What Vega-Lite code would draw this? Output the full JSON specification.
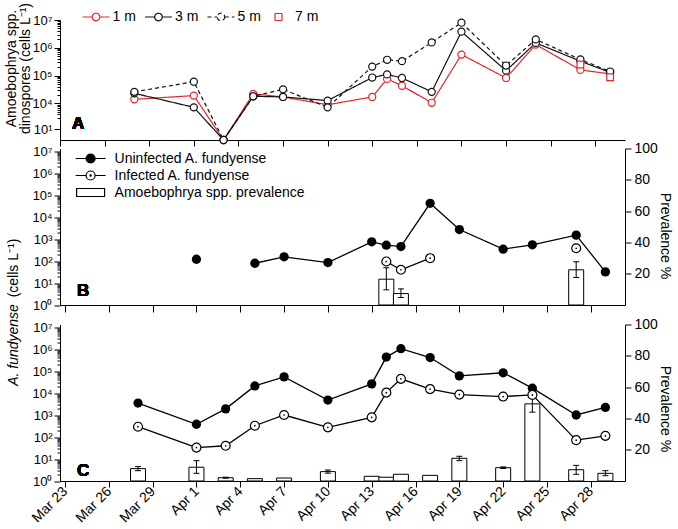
{
  "$schema": "https://vega.github.io/schema/vega-lite/v6.json",
  "background": "white",
  "padding": {"left": 3, "top": 2, "right": 3, "bottom": 0},
  "spacing": 8.5,
  "bounds": "flush",
  "config": {
    "view": {"stroke": null},
    "font": "Liberation Sans",
    "axis": {"domainColor": "black", "tickColor": "black", "labelColor": "black", "titleColor": "black", "grid": false, "labelFont": "Liberation Sans", "titleFont": "Liberation Sans", "titleFontWeight": "normal", "domainWidth": 1, "tickWidth": 1},
    "legend": {"labelFont": "Liberation Sans", "labelColor": "black", "labelFontSize": 14, "labelLimit": 400}
  },
  "datasets": {
    "A": [
      {"date": "2010-03-28T00:00", "depth": "1 m", "val": 14000},
      {"date": "2010-04-01T00:00", "depth": "1 m", "val": 19000},
      {"date": "2010-04-03T00:00", "depth": "1 m", "val": 8},
      {"date": "2010-04-05T00:00", "depth": "1 m", "val": 22000},
      {"date": "2010-04-07T00:00", "depth": "1 m", "val": 17000},
      {"date": "2010-04-10T00:00", "depth": "1 m", "val": 8900},
      {"date": "2010-04-13T00:00", "depth": "1 m", "val": 17000},
      {"date": "2010-04-14T00:00", "depth": "1 m", "val": 76000},
      {"date": "2010-04-15T00:00", "depth": "1 m", "val": 43000},
      {"date": "2010-04-17T00:00", "depth": "1 m", "val": 10500},
      {"date": "2010-04-19T00:00", "depth": "1 m", "val": 570000},
      {"date": "2010-04-22T00:00", "depth": "1 m", "val": 82000},
      {"date": "2010-04-24T00:00", "depth": "1 m", "val": 1300000},
      {"date": "2010-04-27T00:00", "depth": "1 m", "val": 160000},
      {"date": "2010-04-29T00:00", "depth": "1 m", "val": 115000},
      {"date": "2010-03-28T00:00", "depth": "3 m", "val": 23000},
      {"date": "2010-04-01T00:00", "depth": "3 m", "val": 7200},
      {"date": "2010-04-03T00:00", "depth": "3 m", "val": 5},
      {"date": "2010-04-05T00:00", "depth": "3 m", "val": 18000},
      {"date": "2010-04-07T00:00", "depth": "3 m", "val": 17000},
      {"date": "2010-04-10T00:00", "depth": "3 m", "val": 12600},
      {"date": "2010-04-13T00:00", "depth": "3 m", "val": 85000},
      {"date": "2010-04-14T00:00", "depth": "3 m", "val": 110000},
      {"date": "2010-04-15T00:00", "depth": "3 m", "val": 82000},
      {"date": "2010-04-17T00:00", "depth": "3 m", "val": 26000},
      {"date": "2010-04-19T00:00", "depth": "3 m", "val": 3800000},
      {"date": "2010-04-22T00:00", "depth": "3 m", "val": 150000},
      {"date": "2010-04-24T00:00", "depth": "3 m", "val": 1500000},
      {"date": "2010-04-27T00:00", "depth": "3 m", "val": 330000},
      {"date": "2010-04-29T00:00", "depth": "3 m", "val": 130000},
      {"date": "2010-03-28T00:00", "depth": "5 m", "val": 26000},
      {"date": "2010-04-01T00:00", "depth": "5 m", "val": 60000},
      {"date": "2010-04-03T00:00", "depth": "5 m", "val": 15},
      {"date": "2010-04-05T00:00", "depth": "5 m", "val": 18000},
      {"date": "2010-04-07T00:00", "depth": "5 m", "val": 32000},
      {"date": "2010-04-10T00:00", "depth": "5 m", "val": 7200},
      {"date": "2010-04-13T00:00", "depth": "5 m", "val": 210000},
      {"date": "2010-04-14T00:00", "depth": "5 m", "val": 370000},
      {"date": "2010-04-15T00:00", "depth": "5 m", "val": 330000},
      {"date": "2010-04-17T00:00", "depth": "5 m", "val": 1560000},
      {"date": "2010-04-19T00:00", "depth": "5 m", "val": 8000000},
      {"date": "2010-04-22T00:00", "depth": "5 m", "val": 230000},
      {"date": "2010-04-24T00:00", "depth": "5 m", "val": 2000000},
      {"date": "2010-04-27T00:00", "depth": "5 m", "val": 380000},
      {"date": "2010-04-29T00:00", "depth": "5 m", "val": 140000},
      {"date": "2010-04-27T00:00", "depth": "7 m", "val": 250000},
      {"date": "2010-04-29T00:00", "depth": "7 m", "val": 87000}
    ],
    "B": [
      {"date": "2010-04-01T00:00", "uninf": 120, "useg": 1, "inf": null, "iseg": null, "prev": null, "lo": null, "hi": null},
      {"date": "2010-04-05T00:00", "uninf": 79, "useg": 2, "inf": null, "iseg": null, "prev": null, "lo": null, "hi": null},
      {"date": "2010-04-07T00:00", "uninf": 155, "useg": 2, "inf": null, "iseg": null, "prev": null, "lo": null, "hi": null},
      {"date": "2010-04-10T00:00", "uninf": 85, "useg": 2, "inf": null, "iseg": null, "prev": null, "lo": null, "hi": null},
      {"date": "2010-04-13T00:00", "uninf": 745, "useg": 2, "inf": null, "iseg": null, "prev": null, "lo": null, "hi": null},
      {"date": "2010-04-14T00:00", "uninf": 525, "useg": 2, "inf": 95, "iseg": 1, "prev": 16.5, "lo": 9.7, "hi": 23.8},
      {"date": "2010-04-15T00:00", "uninf": 455, "useg": 2, "inf": 40, "iseg": 1, "prev": 7.3, "lo": 4.8, "hi": 10.3},
      {"date": "2010-04-17T00:00", "uninf": 42000, "useg": 2, "inf": 134, "iseg": 1, "prev": null, "lo": null, "hi": null},
      {"date": "2010-04-19T00:00", "uninf": 2700, "useg": 2, "inf": null, "iseg": null, "prev": null, "lo": null, "hi": null},
      {"date": "2010-04-22T00:00", "uninf": 345, "useg": 2, "inf": null, "iseg": null, "prev": null, "lo": null, "hi": null},
      {"date": "2010-04-24T00:00", "uninf": 545, "useg": 2, "inf": null, "iseg": null, "prev": null, "lo": null, "hi": null},
      {"date": "2010-04-27T00:00", "uninf": 1500, "useg": 2, "inf": 380, "iseg": 2, "prev": 22.5, "lo": 17.6, "hi": 27.6},
      {"date": "2010-04-29T00:00", "uninf": 32, "useg": 2, "inf": null, "iseg": null, "prev": null, "lo": null, "hi": null}
    ],
    "C": [
      {"date": "2010-03-28T00:00", "uninf": 3500, "inf": 293, "prev": 7.9, "lo": 6.6, "hi": 9.2},
      {"date": "2010-04-01T00:00", "uninf": 380, "inf": 33, "prev": 8.8, "lo": 4.9, "hi": 13},
      {"date": "2010-04-03T00:00", "uninf": 1900, "inf": 40, "prev": 2.1, "lo": 1.8, "hi": 2.4},
      {"date": "2010-04-05T00:00", "uninf": 21000, "inf": 325, "prev": 1.5, "lo": null, "hi": null},
      {"date": "2010-04-07T00:00", "uninf": 54000, "inf": 1000, "prev": 1.9, "lo": null, "hi": null},
      {"date": "2010-04-10T00:00", "uninf": 4800, "inf": 275, "prev": 6, "lo": 5, "hi": 7},
      {"date": "2010-04-13T00:00", "uninf": 26000, "inf": 785, "prev": 3, "lo": null, "hi": null},
      {"date": "2010-04-14T00:00", "uninf": 430000, "inf": 10400, "prev": 2.4, "lo": null, "hi": null},
      {"date": "2010-04-15T00:00", "uninf": 1030000, "inf": 44000, "prev": 4.3, "lo": null, "hi": null},
      {"date": "2010-04-17T00:00", "uninf": 410000, "inf": 15000, "prev": 3.6, "lo": null, "hi": null},
      {"date": "2010-04-19T00:00", "uninf": 60000, "inf": 8500, "prev": 14.5, "lo": 13, "hi": 15.8},
      {"date": "2010-04-22T00:00", "uninf": 83000, "inf": 6900, "prev": 8.5, "lo": 8, "hi": 9},
      {"date": "2010-04-24T00:00", "uninf": 16600, "inf": 8200, "prev": 49.3, "lo": 44, "hi": 54},
      {"date": "2010-04-27T00:00", "uninf": 1000, "inf": 72, "prev": 7.2, "lo": 4.3, "hi": 10},
      {"date": "2010-04-29T00:00", "uninf": 2200, "inf": 113, "prev": 4.9, "lo": 3.4, "hi": 6.6}
    ],
    "Bkey": [
      {"series": "Uninfected A. fundyense"},
      {"series": "Infected A. fundyense"},
      {"series": "Amoebophrya spp. prevalence"}
    ],
    "empty": []
  },
  "resolve": {
    "scale": {"x": "independent", "y": "independent", "stroke": "independent", "shape": "independent", "strokeDash": "independent", "fill": "independent"},
    "axis": {"x": "independent", "y": "independent"},
    "legend": {"stroke": "independent", "shape": "independent", "strokeDash": "independent", "fill": "independent"}
  },
  "vconcat": [
    {
      "width": 565,
      "height": 120,
      "data": {"name": "A"},
      "encoding": {
        "x": {
          "field": "date", "type": "temporal",
          "scale": {"domain": [{"year": 2010, "month": 3, "date": 23}, {"year": 2010, "month": 4, "date": 30}]},
          "axis": {"title": null, "labels": false, "tickSize": 6, "values": [{"year": 2010, "month": 3, "date": 23}, {"year": 2010, "month": 3, "date": 26}, {"year": 2010, "month": 3, "date": 29}, {"year": 2010, "month": 4, "date": 1}, {"year": 2010, "month": 4, "date": 4}, {"year": 2010, "month": 4, "date": 7}, {"year": 2010, "month": 4, "date": 10}, {"year": 2010, "month": 4, "date": 13}, {"year": 2010, "month": 4, "date": 16}, {"year": 2010, "month": 4, "date": 19}, {"year": 2010, "month": 4, "date": 22}, {"year": 2010, "month": 4, "date": 25}, {"year": 2010, "month": 4, "date": 28}]}
        },
        "y": {
          "field": "val", "type": "quantitative",
          "scale": {"type": "log", "domain": [480, 10000000], "clamp": true, "nice": false},
          "axis": {
            "orient": "left",
            "values": [1160, 3000, 4000, 5000, 6000, 7000, 8000, 9000, 10000, 20000, 30000, 40000, 50000, 60000, 70000, 80000, 90000, 100000, 200000, 300000, 400000, 500000, 600000, 700000, 800000, 900000, 1000000, 2000000, 3000000, 4000000, 5000000, 6000000, 7000000, 8000000, 9000000, 10000000],
            "labelExpr": "datum.value == 1160 ? '10¹' : (abs(log(datum.value)/LN10 - round(log(datum.value)/LN10)) < 0.001 ? '10' + ['⁰','¹','²','³','⁴','⁵','⁶','⁷'][round(log(datum.value)/LN10)] : '')",
            "tickSize": {"condition": {"test": "datum.value == 1160 || abs(log(datum.value)/LN10 - round(log(datum.value)/LN10)) < 0.001", "value": 6}, "value": 3},
            "labelOverlap": false,
            "labelFontSize": 13,
            "labelPadding": 2,
            "title": ["Amoebophrya spp.", "dinospores (cells L⁻¹)"],
            "titleFontSize": 14,
            "titleLineHeight": 14,
            "titleAngle": -90,
            "titleX": -49,
            "titleY": 48,
            "titleAlign": "center",
            "titleBaseline": "middle"
          }
        }
      },
      "layer": [
        {
          "transform": [{"filter": "datum.depth != '7 m'"}],
          "mark": {"type": "line", "strokeWidth": 1.2},
          "encoding": {
            "stroke": {"field": "depth", "type": "nominal", "scale": {"domain": ["1 m", "3 m", "5 m", "7 m"], "range": ["#e3262b", "#111111", "#111111", "#e3262b"]}},
            "strokeDash": {"field": "depth", "type": "nominal", "scale": {"domain": ["1 m", "3 m", "5 m", "7 m"], "range": [[1, 0], [1, 0], [4, 3], [1, 0]]}}
          }
        },
        {
          "transform": [{"filter": "datum.depth != '7 m'"}],
          "mark": {"type": "point", "shape": "circle", "filled": false, "fill": "white", "size": 50, "strokeWidth": 1.2, "opacity": 1},
          "encoding": {"stroke": {"field": "depth", "type": "nominal"}}
        },
        {
          "transform": [{"filter": "datum.depth == '7 m'"}],
          "mark": {"type": "point", "shape": "square", "filled": false, "fill": "white", "size": 45, "strokeWidth": 1.2, "opacity": 1},
          "encoding": {"stroke": {"field": "depth", "type": "nominal"}}
        },
        {
          "transform": [{"filter": "false"}],
          "mark": {"type": "point", "filled": false, "fill": "white", "strokeWidth": 1.2, "opacity": 1},
          "encoding": {
            "stroke": {
              "field": "depth", "type": "nominal",
              "legend": {"orient": "none", "legendX": 25, "legendY": -14, "direction": "horizontal", "columns": 4, "title": null, "symbolSize": 400, "symbolStrokeWidth": 1.2, "symbolFillColor": "white", "labelFontSize": 14, "labelOffset": 5.5, "columnPadding": 6.5}
            },
            "strokeDash": {"field": "depth", "type": "nominal"},
            "shape": {
              "field": "depth", "type": "nominal",
              "scale": {"domain": ["1 m", "3 m", "5 m", "7 m"], "range": ["M-1.35,0H-0.38M0.38,0H1.35M0.38,0A0.38,0.38,0,1,1,-0.38,0A0.38,0.38,0,1,1,0.38,0", "M-1.35,0H-0.38M0.38,0H1.35M0.38,0A0.38,0.38,0,1,1,-0.38,0A0.38,0.38,0,1,1,0.38,0", "M-1.35,0H-0.38M0.38,0H1.35M0.38,0A0.38,0.38,0,1,1,-0.38,0A0.38,0.38,0,1,1,0.38,0", "M-0.35,-0.35H0.35V0.35H-0.35Z"]}
            }
          }
        },
        {
          "mark": {"type": "text", "text": "A", "fontSize": 17, "fontWeight": "bold", "align": "left", "baseline": "bottom", "dx": 12, "dy": -7},
          "encoding": {
            "x": {"datum": {"year": 2010, "month": 3, "date": 23}, "type": "temporal"},
            "y": {"datum": 480, "type": "quantitative"}
          }
        }
      ]
    },
    {
      "width": 565,
      "height": 156.5,
      "data": {"name": "B"},
      "resolve": {"scale": {"y": "independent"}, "axis": {"y": "independent"}},
      "layer": [
        {
          "encoding": {
            "x": {
              "field": "date", "type": "temporal",
              "scale": {"domain": [{"year": 2010, "month": 3, "date": 23}, {"year": 2010, "month": 4, "date": 30}]},
              "axis": {"title": null, "labels": false, "tickSize": 7, "values": [{"year": 2010, "month": 3, "date": 23}, {"year": 2010, "month": 3, "date": 26}, {"year": 2010, "month": 3, "date": 29}, {"year": 2010, "month": 4, "date": 1}, {"year": 2010, "month": 4, "date": 4}, {"year": 2010, "month": 4, "date": 7}, {"year": 2010, "month": 4, "date": 10}, {"year": 2010, "month": 4, "date": 13}, {"year": 2010, "month": 4, "date": 16}, {"year": 2010, "month": 4, "date": 19}, {"year": 2010, "month": 4, "date": 22}, {"year": 2010, "month": 4, "date": 25}, {"year": 2010, "month": 4, "date": 28}]}
            }
          },
          "layer": [
            {
              "transform": [{"filter": "datum.prev != null"}],
              "mark": {"type": "bar", "width": 15, "fill": "white", "stroke": "black", "strokeWidth": 1},
              "encoding": {
                "y": {
                  "field": "prev", "type": "quantitative",
                  "scale": {"domain": [0, 100], "nice": false},
                  "axis": {"orient": "right", "values": [20, 40, 60, 80, 100], "tickCount": 20, "labelOverlap": false, "tickSize": 6, "labelFontSize": 14, "labelPadding": 3, "title": "Prevalence %", "titleFontSize": 14, "titleAngle": 90, "titleX": 39, "titleY": 87, "titleAlign": "center", "titleBaseline": "middle"}
                }
              }
            },
            {
              "transform": [{"filter": "datum.lo != null"}],
              "mark": {"type": "rule", "color": "black", "strokeWidth": 1},
              "encoding": {"y": {"field": "lo", "type": "quantitative"}, "y2": {"field": "hi"}}
            },
            {
              "transform": [{"filter": "datum.lo != null"}],
              "mark": {"type": "tick", "orient": "horizontal", "size": 6, "thickness": 1, "color": "black", "opacity": 1},
              "encoding": {"y": {"field": "lo", "type": "quantitative"}}
            },
            {
              "transform": [{"filter": "datum.hi != null"}],
              "mark": {"type": "tick", "orient": "horizontal", "size": 6, "thickness": 1, "color": "black", "opacity": 1},
              "encoding": {"y": {"field": "hi", "type": "quantitative"}}
            },
            {
              "mark": {"type": "text", "text": "B", "fontSize": 17, "fontWeight": "bold", "align": "left", "baseline": "bottom", "dx": 12, "dy": -5},
              "encoding": {
                "x": {"datum": {"year": 2010, "month": 3, "date": 23}, "type": "temporal"},
                "y": {"datum": 0, "type": "quantitative"}
              }
            }
          ]
        },
        {
          "encoding": {
            "x": {"field": "date", "type": "temporal", "scale": {"domain": [{"year": 2010, "month": 3, "date": 23}, {"year": 2010, "month": 4, "date": 30}]}}
          },
          "layer": [
            {
              "transform": [{"filter": "datum.uninf != null"}],
              "mark": {"type": "line", "color": "black", "strokeWidth": 1.3},
              "encoding": {
                "detail": {"field": "useg", "type": "nominal"},
                "y": {
                  "field": "uninf", "type": "quantitative",
                  "scale": {"type": "log", "domain": [1, 13000000], "nice": false},
                  "axis": {
                    "orient": "left",
                    "values": [1, 2, 3, 4, 5, 6, 7, 8, 9, 10, 20, 30, 40, 50, 60, 70, 80, 90, 100, 200, 300, 400, 500, 600, 700, 800, 900, 1000, 2000, 3000, 4000, 5000, 6000, 7000, 8000, 9000, 10000, 20000, 30000, 40000, 50000, 60000, 70000, 80000, 90000, 100000, 200000, 300000, 400000, 500000, 600000, 700000, 800000, 900000, 1000000, 2000000, 3000000, 4000000, 5000000, 6000000, 7000000, 8000000, 9000000, 10000000],
                    "labelExpr": "abs(log(datum.value)/LN10 - round(log(datum.value)/LN10)) < 0.001 ? '10' + ['⁰','¹','²','³','⁴','⁵','⁶','⁷'][round(log(datum.value)/LN10)] : ''",
                    "tickSize": {"condition": {"test": "abs(log(datum.value)/LN10 - round(log(datum.value)/LN10)) < 0.001", "value": 6}, "value": 3},
                    "labelOverlap": false,
                    "labelFontSize": 13,
                    "labelPadding": 2,
                    "title": "(cells L⁻¹)",
                    "titleFontSize": 14,
                    "titleAngle": -90,
                    "titleX": -47,
                    "titleY": 119,
                    "titleAlign": "center",
                    "titleBaseline": "middle"
                  }
                }
              }
            },
            {
              "transform": [{"filter": "datum.uninf != null"}],
              "mark": {"type": "point", "shape": "circle", "filled": true, "fill": "black", "size": 86, "opacity": 1},
              "encoding": {"y": {"field": "uninf", "type": "quantitative"}}
            },
            {
              "transform": [{"filter": "datum.inf != null"}],
              "mark": {"type": "line", "color": "black", "strokeWidth": 1.3},
              "encoding": {
                "detail": {"field": "iseg", "type": "nominal"},
                "y": {"field": "inf", "type": "quantitative"}
              }
            },
            {
              "transform": [{"filter": "datum.inf != null"}],
              "mark": {"type": "point", "shape": "circle", "filled": false, "fill": "white", "stroke": "black", "strokeWidth": 1.2, "size": 80, "opacity": 1},
              "encoding": {"y": {"field": "inf", "type": "quantitative"}}
            },
            {
              "transform": [{"filter": "datum.inf != null"}],
              "mark": {"type": "point", "shape": "circle", "filled": true, "fill": "black", "size": 3, "opacity": 1},
              "encoding": {"y": {"field": "inf", "type": "quantitative"}}
            },
            {
              "data": {"name": "Bkey"},
              "transform": [{"filter": "false"}],
              "mark": {"type": "point", "strokeWidth": 1.2, "opacity": 1},
              "encoding": {
                "shape": {
                  "field": "series", "type": "nominal",
                  "scale": {"domain": ["Uninfected A. fundyense", "Infected A. fundyense", "Amoebophrya spp. prevalence"], "range": ["M-3,0H-0.9M0.9,0H3M0.9,0A0.9,0.9,0,1,1,-0.9,0A0.9,0.9,0,1,1,0.9,0", "M-3,0H-0.9M0.9,0H3M0.9,0A0.9,0.9,0,1,1,-0.9,0A0.9,0.9,0,1,1,0.9,0M0.12,0A0.12,0.12,0,1,1,-0.12,0A0.12,0.12,0,1,1,0.12,0", "M-2.8,-0.8H2.8V0.8H-2.8Z"]},
                  "legend": {"orient": "none", "legendX": 23.6, "legendY": 3, "direction": "vertical", "title": null, "symbolSize": 100, "symbolStrokeWidth": 1.2, "labelFontSize": 14, "labelOffset": 17, "labelLimit": 400, "rowPadding": 3}
                },
                "fill": {
                  "field": "series", "type": "nominal",
                  "scale": {"domain": ["Uninfected A. fundyense", "Infected A. fundyense", "Amoebophrya spp. prevalence"], "range": ["black", "white", "white"]},
                  "legend": {"orient": "none", "legendX": 23.6, "legendY": 3, "direction": "vertical", "title": null, "symbolSize": 100, "symbolStrokeWidth": 1.2, "labelFontSize": 14, "labelOffset": 17, "labelLimit": 400, "rowPadding": 3}
                },
                "stroke": {
                  "field": "series", "type": "nominal",
                  "scale": {"domain": ["Uninfected A. fundyense", "Infected A. fundyense", "Amoebophrya spp. prevalence"], "range": ["black", "black", "black"]},
                  "legend": {"orient": "none", "legendX": 23.6, "legendY": 3, "direction": "vertical", "title": null, "symbolSize": 100, "symbolStrokeWidth": 1.2, "labelFontSize": 14, "labelOffset": 17, "labelLimit": 400, "rowPadding": 3}
                }
              }
            }
          ]
        }
      ]
    },
    {
      "width": 565,
      "height": 1.2,
      "data": {"name": "empty"},
      "mark": {"type": "point"},
      "encoding": {}
    },
    {
      "width": 565,
      "height": 156.5,
      "data": {"name": "C"},
      "resolve": {"scale": {"y": "independent"}, "axis": {"y": "independent"}},
      "layer": [
        {
          "encoding": {
            "x": {
              "field": "date", "type": "temporal",
              "scale": {"domain": [{"year": 2010, "month": 3, "date": 23}, {"year": 2010, "month": 4, "date": 30}]},
              "axis": {"title": null, "format": "%b %-d", "labelAngle": -45, "labelAlign": "right", "labelBaseline": "middle", "labelFontSize": 14, "labelPadding": 2, "tickSize": 6, "labelOverlap": false, "values": [{"year": 2010, "month": 3, "date": 23}, {"year": 2010, "month": 3, "date": 26}, {"year": 2010, "month": 3, "date": 29}, {"year": 2010, "month": 4, "date": 1}, {"year": 2010, "month": 4, "date": 4}, {"year": 2010, "month": 4, "date": 7}, {"year": 2010, "month": 4, "date": 10}, {"year": 2010, "month": 4, "date": 13}, {"year": 2010, "month": 4, "date": 16}, {"year": 2010, "month": 4, "date": 19}, {"year": 2010, "month": 4, "date": 22}, {"year": 2010, "month": 4, "date": 25}, {"year": 2010, "month": 4, "date": 28}]}
            }
          },
          "layer": [
            {
              "mark": {"type": "bar", "width": 15, "fill": "white", "stroke": "black", "strokeWidth": 1},
              "encoding": {
                "y": {
                  "field": "prev", "type": "quantitative",
                  "scale": {"domain": [0, 100], "nice": false},
                  "axis": {"orient": "right", "values": [20, 40, 60, 80, 100], "tickCount": 20, "labelOverlap": false, "tickSize": 6, "labelFontSize": 14, "labelPadding": 3, "title": "Prevalence %", "titleFontSize": 14, "titleAngle": 90, "titleX": 39, "titleY": 84, "titleAlign": "center", "titleBaseline": "middle"}
                }
              }
            },
            {
              "transform": [{"filter": "datum.lo != null"}],
              "mark": {"type": "rule", "color": "black", "strokeWidth": 1},
              "encoding": {"y": {"field": "lo", "type": "quantitative"}, "y2": {"field": "hi"}}
            },
            {
              "transform": [{"filter": "datum.lo != null"}],
              "mark": {"type": "tick", "orient": "horizontal", "size": 6, "thickness": 1, "color": "black", "opacity": 1},
              "encoding": {"y": {"field": "lo", "type": "quantitative"}}
            },
            {
              "transform": [{"filter": "datum.hi != null"}],
              "mark": {"type": "tick", "orient": "horizontal", "size": 6, "thickness": 1, "color": "black", "opacity": 1},
              "encoding": {"y": {"field": "hi", "type": "quantitative"}}
            },
            {
              "mark": {"type": "text", "text": "C", "fontSize": 17, "fontWeight": "bold", "align": "left", "baseline": "bottom", "dx": 12, "dy": -1},
              "encoding": {
                "x": {"datum": {"year": 2010, "month": 3, "date": 23}, "type": "temporal"},
                "y": {"datum": 0, "type": "quantitative"}
              }
            }
          ]
        },
        {
          "encoding": {
            "x": {"field": "date", "type": "temporal", "scale": {"domain": [{"year": 2010, "month": 3, "date": 23}, {"year": 2010, "month": 4, "date": 30}]}}
          },
          "layer": [
            {
              "mark": {"type": "line", "color": "black", "strokeWidth": 1.3},
              "encoding": {
                "y": {
                  "field": "uninf", "type": "quantitative",
                  "scale": {"type": "log", "domain": [1, 13000000], "nice": false},
                  "axis": {
                    "orient": "left",
                    "values": [1, 2, 3, 4, 5, 6, 7, 8, 9, 10, 20, 30, 40, 50, 60, 70, 80, 90, 100, 200, 300, 400, 500, 600, 700, 800, 900, 1000, 2000, 3000, 4000, 5000, 6000, 7000, 8000, 9000, 10000, 20000, 30000, 40000, 50000, 60000, 70000, 80000, 90000, 100000, 200000, 300000, 400000, 500000, 600000, 700000, 800000, 900000, 1000000, 2000000, 3000000, 4000000, 5000000, 6000000, 7000000, 8000000, 9000000, 10000000],
                    "labelExpr": "abs(log(datum.value)/LN10 - round(log(datum.value)/LN10)) < 0.001 ? '10' + ['⁰','¹','²','³','⁴','⁵','⁶','⁷'][round(log(datum.value)/LN10)] : ''",
                    "tickSize": {"condition": {"test": "abs(log(datum.value)/LN10 - round(log(datum.value)/LN10)) < 0.001", "value": 6}, "value": 3},
                    "labelOverlap": false,
                    "labelFontSize": 13,
                    "labelPadding": 2,
                    "title": "A. fundyense",
                    "titleFontSize": 14,
                    "titleFontStyle": "italic",
                    "titleAngle": -90,
                    "titleX": -47,
                    "titleY": 20,
                    "titleAlign": "center",
                    "titleBaseline": "middle"
                  }
                }
              }
            },
            {
              "mark": {"type": "point", "shape": "circle", "filled": true, "fill": "black", "size": 86, "opacity": 1},
              "encoding": {"y": {"field": "uninf", "type": "quantitative"}}
            },
            {
              "mark": {"type": "line", "color": "black", "strokeWidth": 1.3},
              "encoding": {"y": {"field": "inf", "type": "quantitative"}}
            },
            {
              "mark": {"type": "point", "shape": "circle", "filled": false, "fill": "white", "stroke": "black", "strokeWidth": 1.2, "size": 80, "opacity": 1},
              "encoding": {"y": {"field": "inf", "type": "quantitative"}}
            },
            {
              "mark": {"type": "point", "shape": "circle", "filled": true, "fill": "black", "size": 3, "opacity": 1},
              "encoding": {"y": {"field": "inf", "type": "quantitative"}}
            }
          ]
        }
      ]
    }
  ]
}
